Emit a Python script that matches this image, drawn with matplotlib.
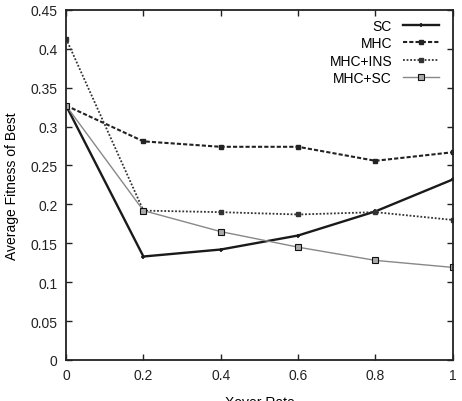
import matplotlib
matplotlib.use("Agg")
import matplotlib.pyplot as plt

plt.rcParams['font.family'] = ['Liberation Sans', 'DejaVu Sans']

# Daten
xover = [0, 0.2, 0.4, 0.6, 0.8, 1.0]
sc = [0.327, 0.133, 0.142, 0.160, 0.191, 0.232]
mhc = [0.327, 0.281, 0.274, 0.274, 0.256, 0.267]
mhc_ins = [0.413, 0.192, 0.190, 0.187, 0.190, 0.180]
mhc_sc = [0.327, 0.192, 0.165, 0.145, 0.128, 0.119]

fig = plt.figure(figsize=(4.62, 4.02), dpi=100)
ax = fig.add_axes([0.143, 0.102, 0.837, 0.871])

ax.plot(xover, sc, color='#1a1a1a', linestyle='-', linewidth=1.7,
        marker='+', markersize=3.5, markeredgewidth=1.2, label='SC')
ax.plot(xover, mhc, color='#222222', linestyle=(0, (2, 1)), linewidth=1.5,
        marker='s', markersize=2.8, label='MHC')
ax.plot(xover, mhc_ins, color='#333333', linestyle=(0, (1, 1)), linewidth=1.3,
        marker='s', markersize=3.2, label='MHC+INS')
ax.plot(xover, mhc_sc, color='#888888', linestyle='-', linewidth=1.0,
        marker='s', markersize=4, markerfacecolor='#aaaaaa',
        markeredgecolor='#111111', markeredgewidth=0.8, label='MHC+SC')

ax.set_xlim(0, 1)
ax.set_ylim(0, 0.45)
ax.set_xticks([0, 0.2, 0.4, 0.6, 0.8, 1])
ax.set_xticklabels(['0', '0.2', '0.4', '0.6', '0.8', '1'])
ax.set_yticks([0, 0.05, 0.1, 0.15, 0.2, 0.25, 0.3, 0.35, 0.4, 0.45])
ax.set_yticklabels(['0', '0.05', '0.1', '0.15', '0.2', '0.25', '0.3', '0.35', '0.4', '0.45'])
ax.tick_params(direction='in', top=True, right=True, length=4, width=1,
               labelsize=10, colors='#222222', pad=6)
for s in ax.spines.values():
    s.set_linewidth(1.3)
    s.set_color('#222222')

ax.set_xlabel('Xover Rate', fontsize=10, labelpad=9)
ax.set_ylabel('Average Fitness of Best', fontsize=10, labelpad=8)

ax.legend(loc='upper right', bbox_to_anchor=(0.965, 0.975), frameon=False,
          markerfirst=False, fontsize=10, handlelength=2.6, labelspacing=0.25,
          borderaxespad=0, handletextpad=0.8, borderpad=0)

plt.savefig('out.png', dpi=100)
